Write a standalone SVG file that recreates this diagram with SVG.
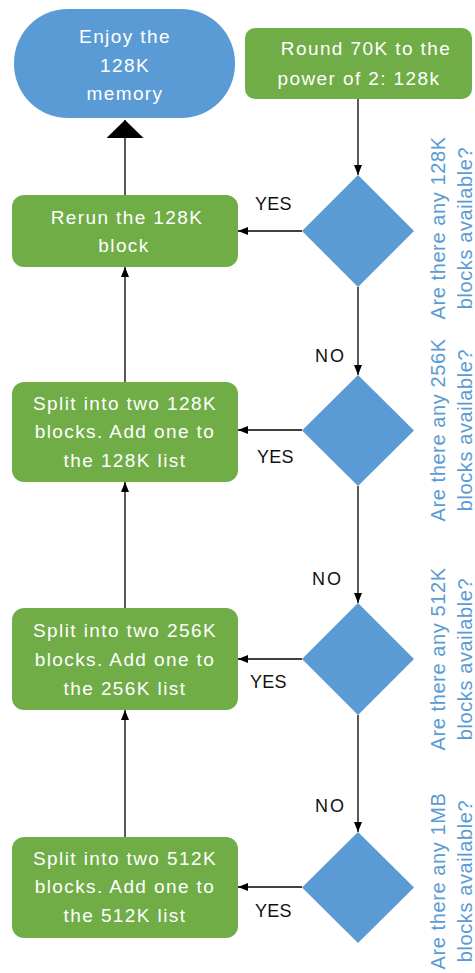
<svg xmlns="http://www.w3.org/2000/svg" width="475" height="973" viewBox="0 0 475 973">
<style>
  .bg{fill:#ffffff}
  .green{fill:#70AD47}
  .blue{fill:#5B9BD5}
  .nt{font-family:"Liberation Sans",Arial,sans-serif;font-size:19px;letter-spacing:1.4px;fill:#ffffff;text-anchor:middle}
  .lbl{font-family:"Liberation Sans",Arial,sans-serif;font-size:18px;letter-spacing:0.3px;fill:#111111}
  .no{letter-spacing:2px}
  .q{font-family:"Liberation Sans",Arial,sans-serif;font-size:20px;letter-spacing:0.6px;fill:#5B9BD5;text-anchor:middle}
  .conn{stroke:#000000;stroke-width:1.3;fill:none}
</style>
<defs>
  <marker id="arr" viewBox="0 0 10 8" refX="10" refY="4" markerWidth="10" markerHeight="8" markerUnits="userSpaceOnUse" orient="auto">
    <path d="M0,0 L10,4 L0,8 z" fill="#000000"/>
  </marker>
  <marker id="bigarr" viewBox="0 0 18 37" refX="18" refY="18.5" markerWidth="18" markerHeight="37" markerUnits="userSpaceOnUse" orient="auto">
    <path d="M0,0 L18,18.5 L0,37 z" fill="#000000"/>
  </marker>
</defs>
<rect class="bg" x="0" y="0" width="475" height="973"/>

<g id="connectors">
  <path class="conn" d="M358,99 L358,175" marker-end="url(#arr)"/>
  <path class="conn" d="M302,231 L238,231" marker-end="url(#arr)"/>
  <path class="conn" d="M358,287 L358,375" marker-end="url(#arr)"/>
  <path class="conn" d="M302,430 L238,430" marker-end="url(#arr)"/>
  <path class="conn" d="M358,486 L358,603" marker-end="url(#arr)"/>
  <path class="conn" d="M302,659 L238,659" marker-end="url(#arr)"/>
  <path class="conn" d="M358,715 L358,832" marker-end="url(#arr)"/>
  <path class="conn" d="M302,887 L238,887" marker-end="url(#arr)"/>
  <path class="conn" d="M125,837 L125,710" marker-end="url(#arr)"/>
  <path class="conn" d="M125,608 L125,482" marker-end="url(#arr)"/>
  <path class="conn" d="M125,382 L125,267" marker-end="url(#arr)"/>
  <path class="conn" d="M125,195 L125,120" marker-end="url(#bigarr)"/>
</g>

<g id="labels">
  <text class="lbl" x="255" y="210">YES</text>
  <text class="lbl no" x="315" y="362">NO</text>
  <text class="lbl" x="257" y="463">YES</text>
  <text class="lbl no" x="312" y="585">NO</text>
  <text class="lbl" x="250" y="688">YES</text>
  <text class="lbl no" x="315" y="812">NO</text>
  <text class="lbl" x="255" y="917">YES</text>
</g>

<g id="enjoy">
  <rect class="blue" x="14" y="9" width="221" height="109" rx="54" ry="54"/>
  <text class="nt" x="125" y="43">Enjoy the</text>
  <text class="nt" x="125" y="72">128K</text>
  <text class="nt" x="125" y="100">memory</text>
</g>

<g id="round">
  <rect class="green" x="245" y="28" width="227" height="71" rx="10" ry="10"/>
  <text class="nt" x="366" y="55">Round 70K to the</text>
  <text class="nt" x="359" y="85">power of 2: 128k</text>
</g>

<g id="rerun">
  <rect class="green" x="12" y="195" width="226" height="72" rx="12" ry="12"/>
  <text class="nt" x="127" y="224">Rerun the 128K</text>
  <text class="nt" x="124" y="252">block</text>
</g>

<g id="split128">
  <rect class="green" x="12" y="382" width="226" height="100" rx="12" ry="12"/>
  <text class="nt" x="125" y="410">Split into two 128K</text>
  <text class="nt" x="125" y="438">blocks. Add one to</text>
  <text class="nt" x="125" y="467">the 128K list</text>
</g>

<g id="split256">
  <rect class="green" x="12" y="608" width="226" height="102" rx="12" ry="12"/>
  <text class="nt" x="125" y="637">Split into two 256K</text>
  <text class="nt" x="125" y="666">blocks. Add one to</text>
  <text class="nt" x="125" y="695">the 256K list</text>
</g>

<g id="split512">
  <rect class="green" x="12" y="837" width="226" height="101" rx="12" ry="12"/>
  <text class="nt" x="125" y="865">Split into two 512K</text>
  <text class="nt" x="125" y="893">blocks. Add one to</text>
  <text class="nt" x="125" y="922">the 512K list</text>
</g>

<g id="d128">
  <polygon class="blue" points="358,175 414,231 358,287 302,231"/>
  <g transform="translate(445,228) rotate(-90)">
    <text class="q" x="0" y="0">Are there any 128K</text>
    <text class="q" x="0" y="27">blocks available?</text>
  </g>
</g>

<g id="d256">
  <polygon class="blue" points="358,375 414,430.5 358,486 302,430.5"/>
  <g transform="translate(445,430) rotate(-90)">
    <text class="q" x="0" y="0">Are there any 256K</text>
    <text class="q" x="0" y="27">blocks available?</text>
  </g>
</g>

<g id="d512">
  <polygon class="blue" points="358,603 414,659 358,715 302,659"/>
  <g transform="translate(445,659) rotate(-90)">
    <text class="q" x="0" y="0">Are there any 512K</text>
    <text class="q" x="0" y="27">blocks available?</text>
  </g>
</g>

<g id="d1mb">
  <polygon class="blue" points="358,832 414,887.5 358,943 302,887.5"/>
  <g transform="translate(445,881) rotate(-90)">
    <text class="q" x="0" y="0">Are there any 1MB</text>
    <text class="q" x="0" y="27">blocks available?</text>
  </g>
</g>
</svg>
